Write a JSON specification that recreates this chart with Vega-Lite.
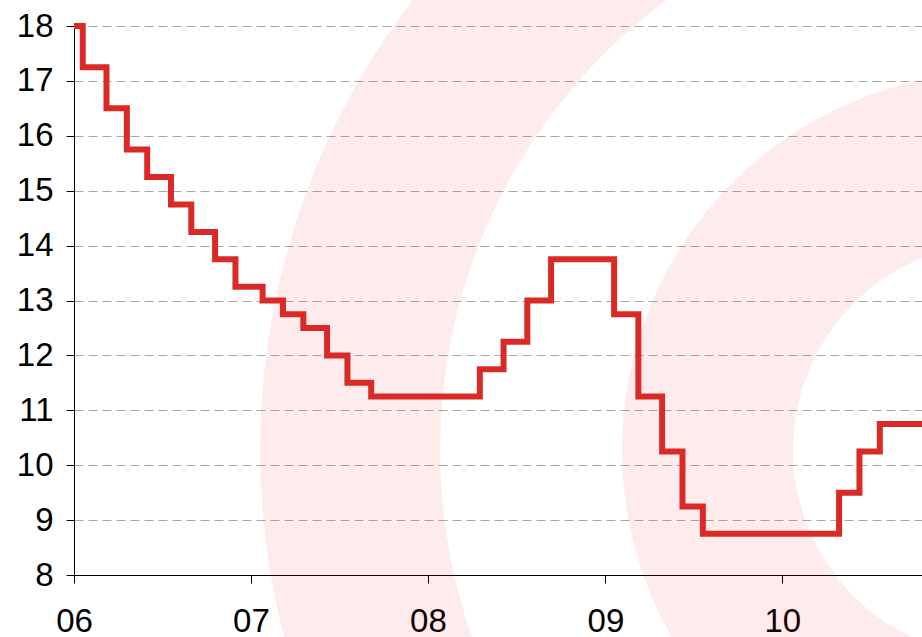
{
  "$schema": "https://vega.github.io/schema/vega-lite/v6.json",
  "width": 848,
  "height": 549,
  "autosize": {"type": "none"},
  "padding": {"left": 74, "top": 26, "right": 0, "bottom": 62},
  "background": "white",
  "config": {"view": {"stroke": null}, "font": "Liberation Sans"},
  "datasets": {
    "selic": [
      {"date": "2006-01-01", "rate": 18.00},
      {"date": "2006-01-19", "rate": 17.25},
      {"date": "2006-03-09", "rate": 16.50},
      {"date": "2006-04-20", "rate": 15.75},
      {"date": "2006-06-01", "rate": 15.25},
      {"date": "2006-07-20", "rate": 14.75},
      {"date": "2006-08-31", "rate": 14.25},
      {"date": "2006-10-19", "rate": 13.75},
      {"date": "2006-11-30", "rate": 13.25},
      {"date": "2007-01-25", "rate": 13.00},
      {"date": "2007-03-08", "rate": 12.75},
      {"date": "2007-04-19", "rate": 12.50},
      {"date": "2007-06-07", "rate": 12.00},
      {"date": "2007-07-19", "rate": 11.50},
      {"date": "2007-09-06", "rate": 11.25},
      {"date": "2008-04-17", "rate": 11.75},
      {"date": "2008-06-05", "rate": 12.25},
      {"date": "2008-07-24", "rate": 13.00},
      {"date": "2008-09-11", "rate": 13.75},
      {"date": "2009-01-19", "rate": 12.75},
      {"date": "2009-03-10", "rate": 11.25},
      {"date": "2009-04-28", "rate": 10.25},
      {"date": "2009-06-09", "rate": 9.25},
      {"date": "2009-07-21", "rate": 8.75},
      {"date": "2010-04-28", "rate": 9.50},
      {"date": "2010-06-09", "rate": 10.25},
      {"date": "2010-07-21", "rate": 10.75},
      {"date": "2010-10-16", "rate": 10.75}
    ],
    "ring": [{}]
  },
  "layer": [
    {
      "data": {"name": "ring"},
      "mark": {"type": "arc", "theta": 0, "theta2": 6.2832, "innerRadius": 560, "outerRadius": 740, "fill": "#f0262b", "fillOpacity": 0.085, "stroke": null},
      "encoding": {
        "x": {"datum": {"year": 2011, "month": 3, "date": 26, "utc": true}, "type": "temporal",
              "scale": {"type": "utc", "domain": [{"year": 2006, "month": 1, "date": 1, "utc": true}, {"year": 2010, "month": 10, "date": 16, "utc": true}]}},
        "y": {"datum": 10.28, "type": "quantitative", "scale": {"domain": [8, 18], "nice": false, "zero": false}}
      }
    },
    {
      "data": {"name": "ring"},
      "mark": {"type": "arc", "theta": 0, "theta2": 6.2832, "innerRadius": 207, "outerRadius": 378, "fill": "#f0262b", "fillOpacity": 0.085, "stroke": null},
      "encoding": {
        "x": {"datum": {"year": 2011, "month": 3, "date": 26, "utc": true}, "type": "temporal"},
        "y": {"datum": 10.28, "type": "quantitative"}
      }
    },
    {
      "data": {"name": "selic"},
      "mark": {"type": "line", "interpolate": "step-after", "color": "#da2a27", "strokeWidth": 6, "strokeJoin": "miter"},
      "encoding": {
        "x": {
          "field": "date", "type": "temporal", "title": null,
          "scale": {"type": "utc", "domain": [{"year": 2006, "month": 1, "date": 1, "utc": true}, {"year": 2010, "month": 10, "date": 16, "utc": true}]},
          "axis": {
            "values": [
              {"year": 2006, "month": 1, "date": 1, "utc": true},
              {"year": 2007, "month": 1, "date": 1, "utc": true},
              {"year": 2008, "month": 1, "date": 1, "utc": true},
              {"year": 2009, "month": 1, "date": 1, "utc": true},
              {"year": 2010, "month": 1, "date": 1, "utc": true}
            ],
            "labelExpr": "utcFormat(datum.value, '%y')",
            "grid": false, "domainColor": "#000000", "domainWidth": 1,
            "tickColor": "#000000", "tickSize": 8, "tickWidth": 1,
            "labelFont": "Liberation Sans", "labelFontSize": 33, "labelColor": "#000000",
            "labelPadding": 22, "labelFlush": false, "labelBound": false, "labelOverlap": false
          }
        },
        "y": {
          "field": "rate", "type": "quantitative", "title": null,
          "scale": {"domain": [8, 18], "nice": false, "zero": false},
          "axis": {
            "values": [8, 9, 10, 11, 12, 13, 14, 15, 16, 17, 18],
            "grid": true, "gridColor": "#a8a8a8", "gridDash": [9, 5], "gridWidth": 1,
            "domainColor": "#000000", "domainWidth": 1,
            "tickColor": "#000000", "tickSize": 8, "tickWidth": 1,
            "labelFont": "Liberation Sans", "labelFontSize": 33, "labelColor": "#000000",
            "labelPadding": 13, "labelOverlap": false, "labelBound": false, "labelFlush": false
          }
        }
      }
    }
  ]
}
